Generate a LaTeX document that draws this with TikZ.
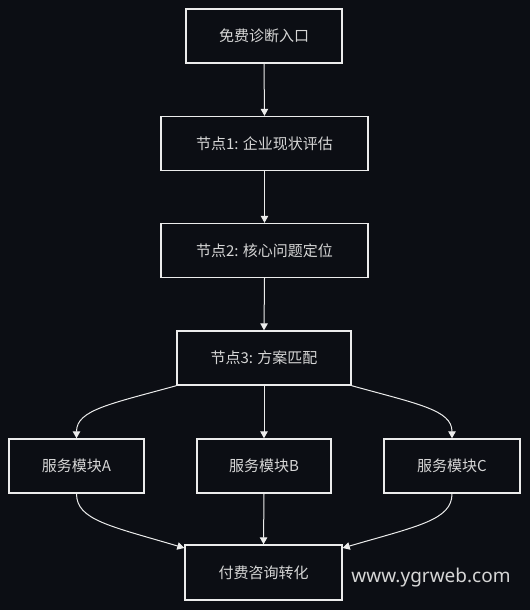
\documentclass[tikz,border=0pt]{standalone}
\usepackage{fontspec}
\newfontfamily\cjk{Noto Sans CJK SC}
\newfontfamily\wmfont{Noto Sans}
\usetikzlibrary{arrows.meta}
\definecolor{bgc}{RGB}{12,14,20}
\definecolor{txt}{RGB}{214,214,214}
\definecolor{edge}{RGB}{236,236,236}
\tikzset{
  box/.style={draw=edge, fill=bgc, line width=1.4pt, inner sep=0pt,
    minimum height=54pt, font=\cjk\fontsize{15}{18}\selectfont, text=txt},
  conn/.style={draw=edge, line width=1pt, -{Triangle[length=7pt,width=7.5pt]}},
}
\begin{document}
\begin{tikzpicture}[x=1pt,y=-1pt]
\fill[bgc] (0,0) rectangle (530,610);
\useasboundingbox (0,0) rectangle (530,610);
\node[box, minimum width=156pt] (n1) at (264,36) {免费诊断入口};
\node[box, minimum width=207pt] (n2) at (264.5,143.5) {节点1: 企业现状评估};
\node[box, minimum width=207pt] (n3) at (264.5,250.5) {节点2: 核心问题定位};
\node[box, minimum width=174pt] (n4) at (264,358) {节点3: 方案匹配};
\node[box, minimum width=135pt] (ma) at (76.5,466) {服务模块A};
\node[box, minimum width=134pt] (mb) at (264,466) {服务模块B};
\node[box, minimum width=136pt] (mc) at (452,466) {服务模块C};
\node[box, minimum width=157pt, minimum height=55pt] (fin) at (263.5,572.5) {付费咨询转化};
\node[font=\wmfont\fontsize{19}{22}\selectfont, text=txt] (wm) at (431,578) {www.ygrweb.com};
\draw[conn] (n1.south) -- (n2.north);
\draw[conn] (n2.south) -- (n3.north);
\draw[conn] (n3.south) -- (n4.north);
\draw[conn] (n4.south) -- (mb.north);
\draw[conn] (mb.south) -- (fin.north);
\draw[conn] (n4.south west) .. controls (110,404) and (76.5,410) .. (ma.north);
\draw[conn] (n4.south east) .. controls (418,404) and (452,410) .. (mc.north);
\draw[conn] (ma.south) .. controls (76.5,520) and (110,526) .. (fin.west |- 0,548);
\draw[conn] (mc.south) .. controls (452,520) and (418,526) .. (fin.east |- 0,548);
\end{tikzpicture}
\end{document}
